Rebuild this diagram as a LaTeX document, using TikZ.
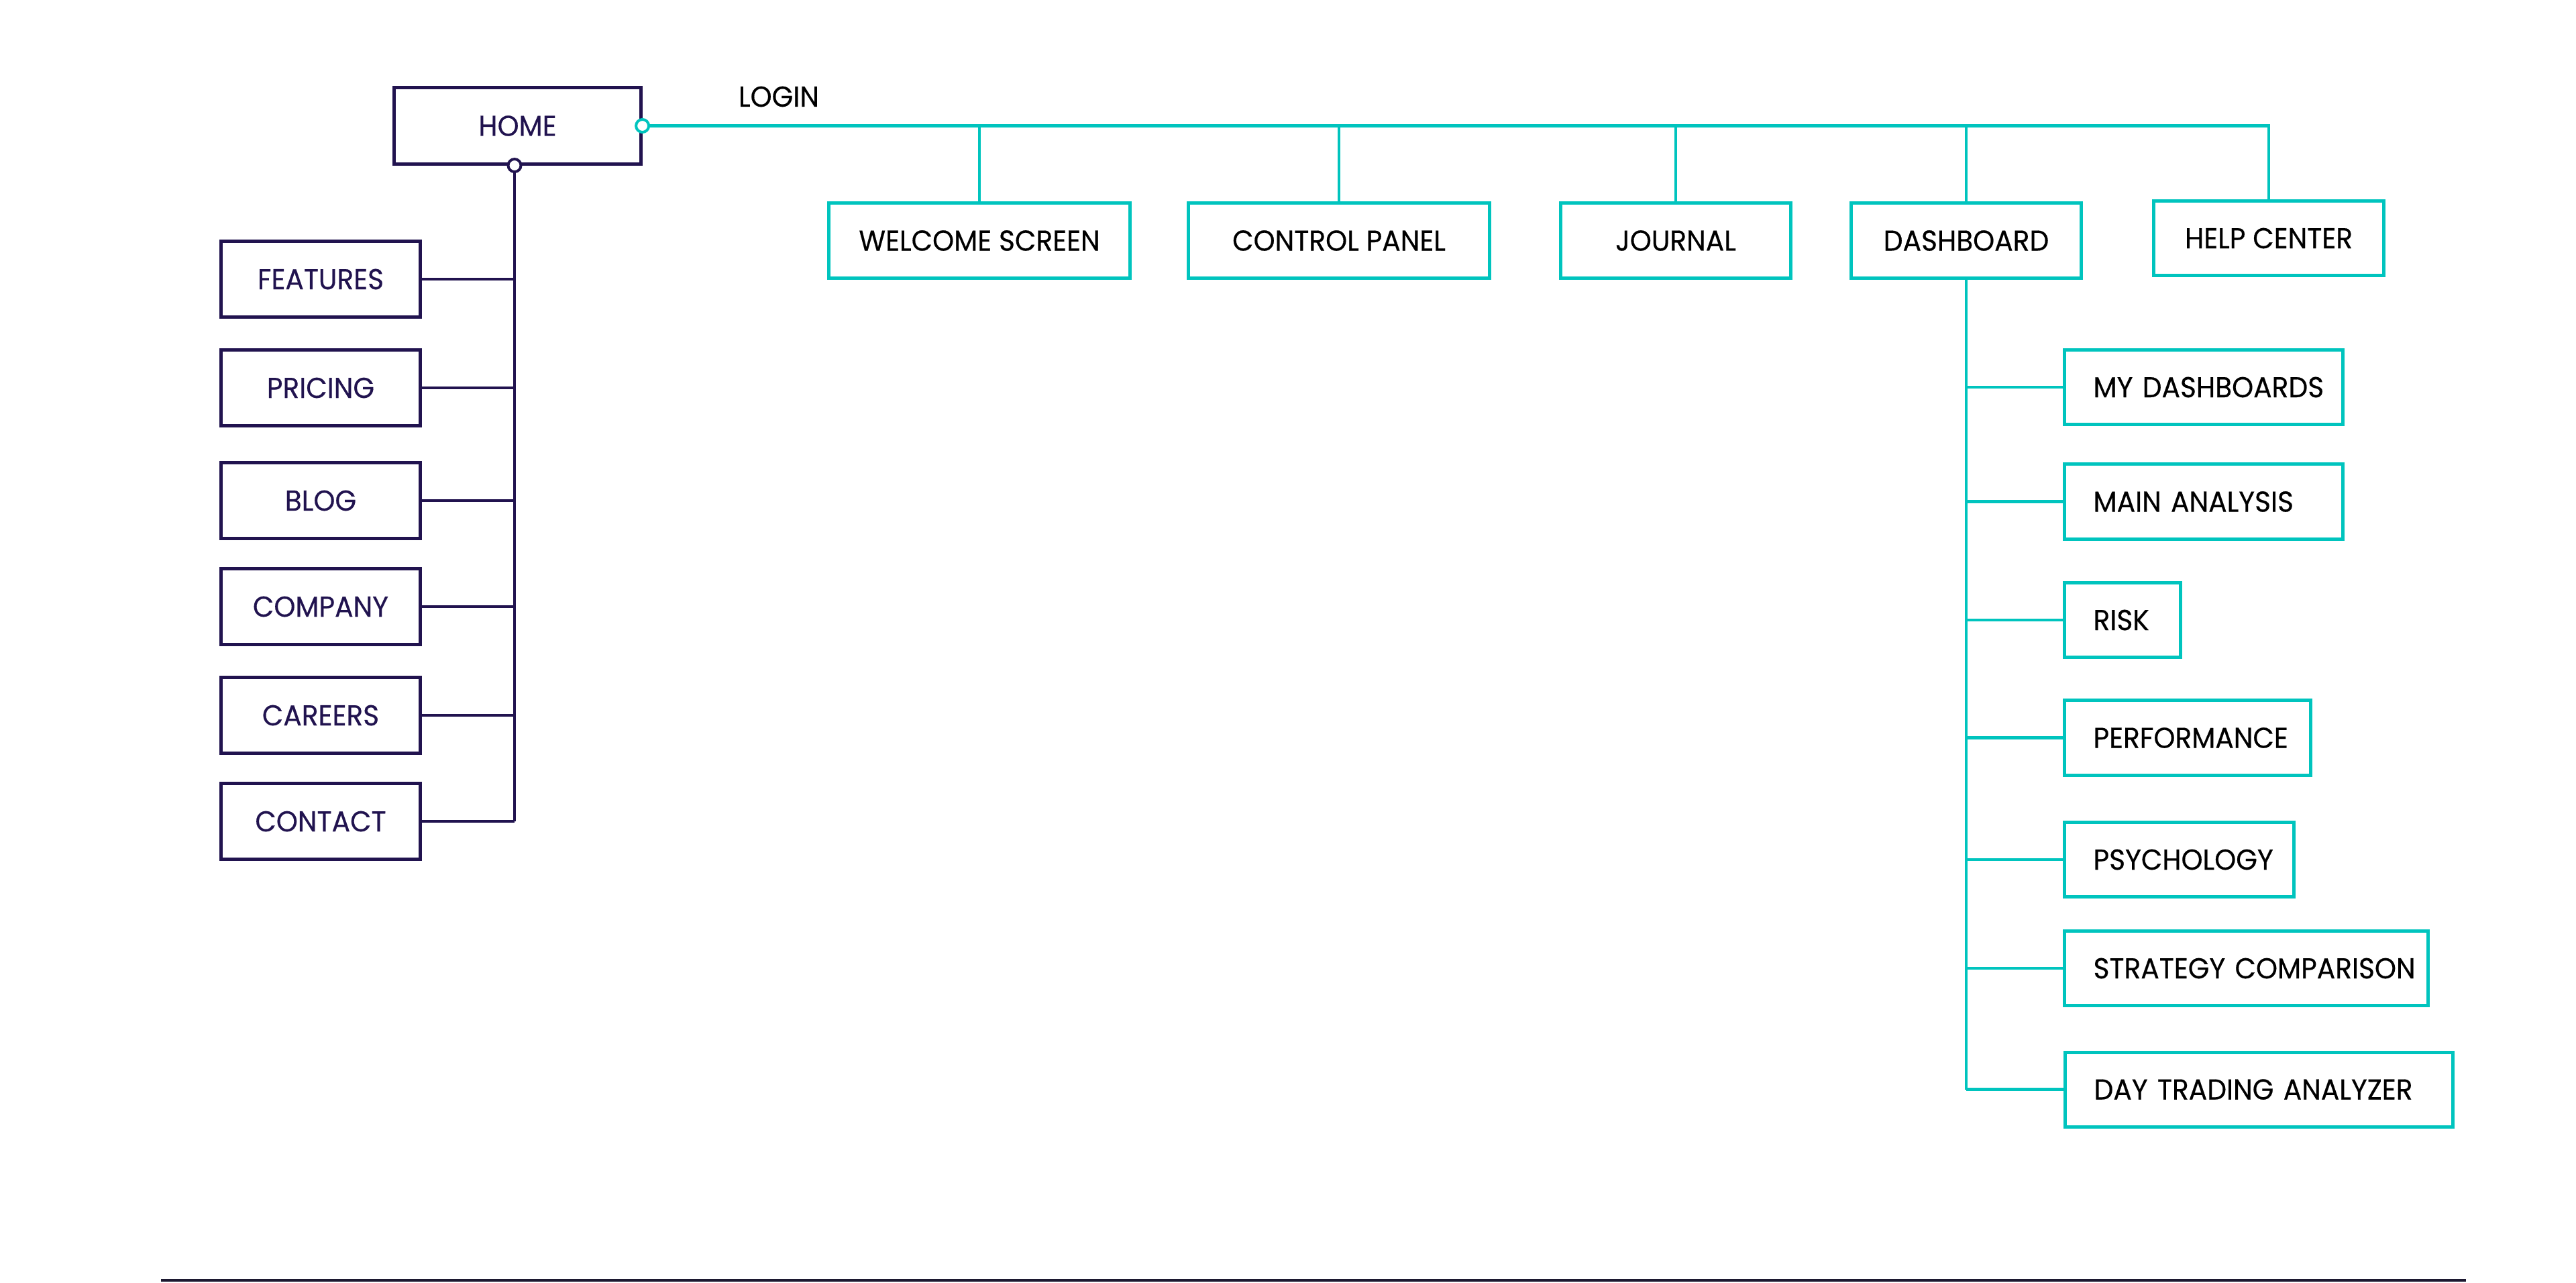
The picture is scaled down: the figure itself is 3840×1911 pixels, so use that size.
\documentclass[tikz,border=0pt]{standalone}
\usepackage{fontspec}
\setmainfont{Poppins}[FakeStretch=0.95, FakeBold=0.4]
\usetikzlibrary{calc}
\definecolor{navyc}{HTML}{21134F}
\definecolor{tealc}{HTML}{00C4BE}
\definecolor{rulec}{HTML}{1C1830}
\newcommand\labfont{\fontsize{12.2}{14}\selectfont}
\begin{document}
\begin{tikzpicture}[x=0.01cm,y=-0.01cm,
  nbox/.style={draw=navyc, line width=0.05cm, text=navyc, minimum height=1.12cm, inner sep=0pt, font=\labfont},
  tbox/.style={draw=tealc, line width=0.05cm, text=black, minimum height=1.11cm, inner sep=0pt, font=\labfont},
  rbox/.style={tbox, anchor=west, inner ysep=0pt, inner xsep=0.43cm, align=left},
  nline/.style={draw=navyc, line width=0.045cm},
  tline/.style={draw=tealc, line width=0.045cm},
  dot/.style={circle, fill=white, line width=0.04cm, minimum size=0.19cm, inner sep=0pt}]
\useasboundingbox (0,0) rectangle (3840,1911);

% home
\node[nbox, minimum width=3.67cm, minimum height=1.13cm] (home) at (771.5,187.5) {HOME};
\node[font=\labfont, text=black] (login) at (1161,144) {LOGIN};

% left column
\node[nbox, minimum width=2.96cm] (features) at (478,416) {FEATURES};
\node[nbox, minimum width=2.96cm] (pricing) at (478,578) {PRICING};
\node[nbox, minimum width=2.96cm] (blog) at (478,746) {BLOG};
\node[nbox, minimum width=2.96cm] (company) at (478,904) {COMPANY};
\node[nbox, minimum width=2.96cm] (careers) at (478,1066) {CAREERS};
\node[nbox, minimum width=2.96cm] (contact) at (478,1224) {CONTACT};

% top row
\node[tbox, minimum width=4.49cm] (welcome) at (1460,358.5) {WELCOME SCREEN};
\node[tbox, minimum width=4.48cm] (control) at (1996,358.5) {CONTROL PANEL};
\node[tbox, minimum width=3.43cm] (journal) at (2498,358.5) {JOURNAL};
\node[tbox, minimum width=3.43cm] (dashboard) at (2931,358.5) {DASHBOARD};
\node[tbox, minimum width=3.43cm] (help) at (3382,355) {HELP CENTER};

% right column
\node[rbox, text width=3.29cm] (mydash) at (3075,577) {\mbox{MY DASHBOARDS}};
\node[rbox, text width=3.29cm] (main) at (3075,747.5) {\mbox{MAIN ANALYSIS}};
\node[rbox, text width=0.87cm] (risk) at (3075,924) {\mbox{RISK}};
\node[rbox, text width=2.81cm] (perf) at (3075,1099.5) {\mbox{PERFORMANCE}};
\node[rbox, text width=2.56cm] (psy) at (3075,1281) {\mbox{PSYCHOLOGY}};
\node[rbox, text width=4.56cm] (strat) at (3075,1443) {\mbox{STRATEGY COMPARISON}};
\node[rbox, text width=4.92cm] (day) at (3076,1623.5) {\mbox{DAY TRADING ANALYZER}};

% navy tree
\coordinate (hs) at ([xshift=-0.045cm]home.south);
\draw[nline] (hs) -- (hs |- contact.east);
\foreach \n in {features,pricing,blog,company,careers,contact}
  \draw[nline] (\n.east) -- (\n.east -| hs);

% teal tree
\draw[tline] (home.east) -- (home.east -| help.north) -- (help.north);
\foreach \n in {welcome,control,journal,dashboard}
  \draw[tline] (\n.north) -- (\n.north |- home.east);
\draw[tline] (dashboard.south) -- (dashboard.south |- day.west);
\foreach \n in {mydash,main,risk,perf,psy,strat,day}
  \draw[tline] (\n.west) -- (\n.west -| dashboard.south);

% junction circles
\node[dot, draw=tealc] (c1) at (home.east) {};
\node[dot, draw=navyc] (c2) at (hs) {};

% bottom rule
\coordinate (r1) at (240,1908);
\coordinate (r2) at (3676,1908);
\draw[draw=rulec, line width=0.045cm] (r1) -- (r2);
\end{tikzpicture}
\end{document}
